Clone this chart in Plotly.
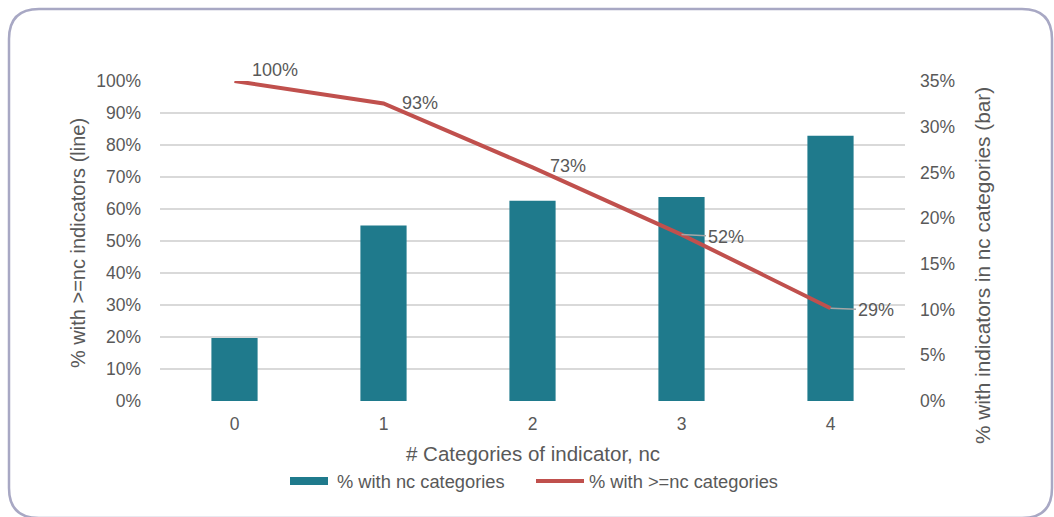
import plotly.graph_objects as go

# Number of categories per indicator
categories = [0, 1, 2, 3, 4]
# Share of indicators with exactly nc categories (bars, right axis)
pct_with_nc = [0.069, 0.192, 0.219, 0.223, 0.290]
# Share of indicators with at least nc categories (line, left axis)
pct_with_ge_nc = [1.00, 0.93, 0.73, 0.52, 0.29]
line_labels = ["100%", "93%", "73%", "52%", "29%"]
series_names = ["% with nc categories", "% with >=nc categories"]

BAR_COLOR = "#1F7A8C"
LINE_COLOR = "#C0504D"
TEXT_COLOR = "#595959"
GRID_COLOR = "#D9D9D9"
FONT = "Liberation Sans, Arial, sans-serif"

# plot-area geometry in pixels (used to place decorations around it)
W, H = 1054, 517
L, R, T, B = 160, 149, 81, 116
PW, PH = W - L - R, H - T - B


def px_x(px):
    return (px - L) / PW


def px_y(py):
    return (H - B - py) / PH


def text_font(size):
    return dict(size=size, color=TEXT_COLOR, family=FONT)


fig = go.Figure()

fig.add_trace(go.Bar(
    x=categories, y=pct_with_nc, name=series_names[0],
    marker=dict(color=BAR_COLOR, line=dict(width=0)),
    width=0.31, yaxis="y", showlegend=False,
))
fig.add_trace(go.Scatter(
    x=categories, y=pct_with_ge_nc, name=series_names[1],
    mode="lines", line=dict(color=LINE_COLOR, width=4), yaxis="y2",
    showlegend=False,
))

# data labels for the line
label_offsets = [(40, 11, False), (36, 0, False), (35, 1, False), (44, -2, True), (45, -2, True)]
for xv, yv, txt, (dx, dy, lead) in zip(categories, pct_with_ge_nc, line_labels, label_offsets):
    if lead:
        fig.add_annotation(
            x=xv, y=yv, xref="x", yref="y2", text=txt, showarrow=True,
            ax=dx, ay=-dy, arrowhead=0, arrowwidth=1.5, arrowcolor="#A6A6A6",
            standoff=0, font=text_font(18),
        )
    else:
        fig.add_annotation(
            x=xv, y=yv, xref="x", yref="y2", text=txt, showarrow=False,
            xshift=dx, yshift=dy, font=text_font(18),
        )

# axis titles
fig.add_annotation(
    x=px_x(78), y=px_y(243), xref="paper", yref="paper", showarrow=False,
    xanchor="center", yanchor="middle",
    text="% with >=nc indicators (line)", textangle=-90, font=text_font(20),
)
fig.add_annotation(
    x=px_x(982), y=px_y(265), xref="paper", yref="paper", showarrow=False,
    xanchor="center", yanchor="middle",
    text="% with indicators in nc categories (bar)", textangle=-90, font=text_font(20.8),
)
fig.add_annotation(
    x=px_x(533), y=px_y(453), xref="paper", yref="paper", showarrow=False,
    xanchor="center", yanchor="middle",
    text="# Categories of indicator, nc", font=text_font(20.5),
)

# legend: swatches and labels
fig.add_shape(type="rect", xref="paper", yref="paper",
              x0=px_x(290), x1=px_x(328), y0=px_y(485), y1=px_y(477),
              fillcolor=BAR_COLOR, line=dict(width=0))
fig.add_shape(type="line", xref="paper", yref="paper",
              x0=px_x(536), x1=px_x(584), y0=px_y(481), y1=px_y(481),
              line=dict(color=LINE_COLOR, width=4))
for name, left in zip(series_names, [335, 587]):
    fig.add_annotation(
        x=px_x(left), y=px_y(481), xref="paper", yref="paper", showarrow=False,
        xanchor="left", yanchor="middle", text=name, font=text_font(18.3),
    )

# rounded chart border
x0, x1, y0, y1, r = 9, 1052, 9, 518, 30
path = (
    f"M {px_x(x0 + r)} {px_y(y0)} L {px_x(x1 - r)} {px_y(y0)} "
    f"Q {px_x(x1)} {px_y(y0)} {px_x(x1)} {px_y(y0 + r)} "
    f"L {px_x(x1)} {px_y(y1 - r)} Q {px_x(x1)} {px_y(y1)} {px_x(x1 - r)} {px_y(y1)} "
    f"L {px_x(x0 + r)} {px_y(y1)} Q {px_x(x0)} {px_y(y1)} {px_x(x0)} {px_y(y1 - r)} "
    f"L {px_x(x0)} {px_y(y0 + r)} Q {px_x(x0)} {px_y(y0)} {px_x(x0 + r)} {px_y(y0)} Z"
)
fig.add_shape(type="path", path=path, xref="paper", yref="paper",
              line=dict(color="#A8A8C4", width=2.5), layer="below")

fig.update_layout(
    width=W, height=H,
    margin=dict(l=L, r=R, t=T, b=B),
    paper_bgcolor="white", plot_bgcolor="white",
    font=dict(family=FONT, size=17.5, color=TEXT_COLOR),
    showlegend=False,
    xaxis=dict(
        tickmode="array", tickvals=categories, ticktext=[str(c) for c in categories],
        range=[-0.5, 4.5], showgrid=False, zeroline=False, showline=False,
        ticks="", ticklabelstandoff=10,
    ),
    yaxis=dict(
        side="right", range=[0, 0.35], dtick=0.05, tickformat=".0%",
        showgrid=False, zeroline=False, ticklabelstandoff=14,
    ),
    yaxis2=dict(
        side="left", overlaying="y", range=[0, 1], dtick=0.1, tickformat=".0%",
        showgrid=True, gridcolor=GRID_COLOR, gridwidth=1.5, zeroline=False,
        ticklabelstandoff=18,
    ),
)

fig.write_html("out.html")
